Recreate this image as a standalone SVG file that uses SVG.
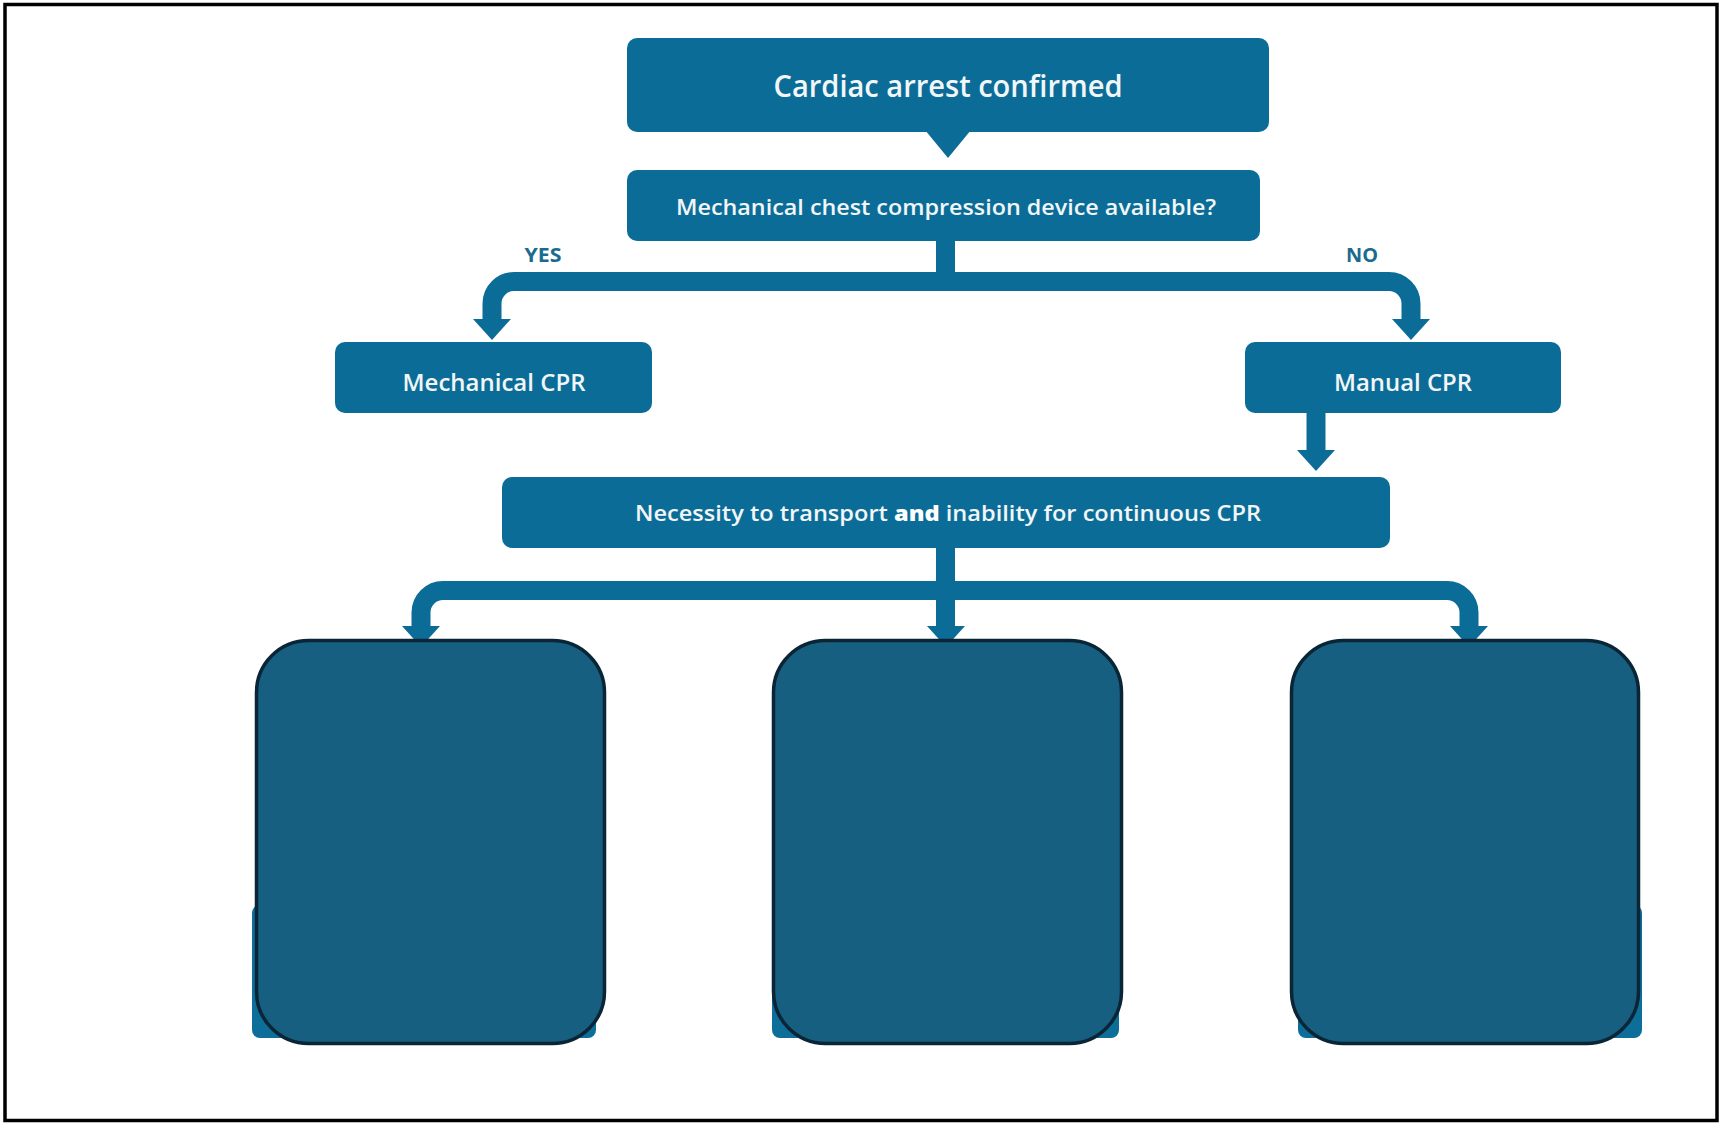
<svg xmlns="http://www.w3.org/2000/svg" width="1721" height="1124" viewBox="0 0 1721 1124">
  <style>
    .box { fill: #0b6d97; }
    .under { fill: #0d6f99; }
    .cover { fill: #175f80; stroke: #0a2536; stroke-width: 3.5; }
    .t { fill: #f2f6f8; font-family: "Open Sans", Lato, "Liberation Sans", sans-serif; font-weight: 600; text-anchor: middle; }
    .lab { fill: #1b6a90; font-family: "Open Sans", Lato, "Liberation Sans", sans-serif; font-weight: 700; text-anchor: middle; font-size: 20px; }
    .conn { fill: none; stroke: #0b6d97; stroke-width: 19; }
    .head { fill: #0b6d97; }
  </style>
  <rect x="0" y="0" width="1721" height="1124" fill="#ffffff"/>
  <rect id="frame" x="5" y="4.5" width="1712" height="1116" fill="none" stroke="#000000" stroke-width="3.5"/>

  <g id="connectors">
    <polygon class="head" points="925,130 971,130 948,158"/>
    <path class="conn" d="M945.5 241 V282"/>
    <path class="conn" d="M492 322 V303.5 A22 22 0 0 1 514 281.5 H1389 A22 22 0 0 1 1411 303.5 V322"/>
    <polygon class="head" points="473,319 511,319 492,340"/>
    <polygon class="head" points="1392,319 1430,319 1411,340"/>
    <path class="conn" d="M1316 413 V452"/>
    <polygon class="head" points="1297,450 1335,450 1316,471"/>
    <path class="conn" d="M945.5 548 V600"/>
    <path class="conn" d="M421 630 V612.5 A22 22 0 0 1 443 590.5 H1447 A22 22 0 0 1 1469 612.5 V630"/>
    <path class="conn" d="M945.5 590 V630"/>
    <polygon class="head" points="402,626 440,626 421,647"/>
    <polygon class="head" points="927,626 965,626 946,647"/>
    <polygon class="head" points="1450,626 1488,626 1469,647"/>
    <text class="lab" x="543" y="262" textLength="37" lengthAdjust="spacingAndGlyphs">YES</text>
    <text class="lab" x="1362" y="262" textLength="32" lengthAdjust="spacingAndGlyphs">NO</text>
  </g>

  <g id="n1">
    <rect class="box" x="627" y="38" width="642" height="94" rx="10"/>
    <text class="t" x="948" y="97" font-size="30" textLength="349" lengthAdjust="spacingAndGlyphs">Cardiac arrest confirmed</text>
  </g>
  <g id="n2">
    <rect class="box" x="627" y="170" width="633" height="71" rx="10"/>
    <text class="t" x="946" y="215" font-size="22" textLength="540" lengthAdjust="spacingAndGlyphs">Mechanical chest compression device available?</text>
  </g>
  <g id="n3">
    <rect class="box" x="335" y="342" width="317" height="71" rx="10"/>
    <text class="t" x="494" y="391" font-size="23" textLength="183" lengthAdjust="spacingAndGlyphs">Mechanical CPR</text>
  </g>
  <g id="n4">
    <rect class="box" x="1245" y="342" width="316" height="71" rx="10"/>
    <text class="t" x="1403" y="391" font-size="23" textLength="138" lengthAdjust="spacingAndGlyphs">Manual CPR</text>
  </g>
  <g id="n5">
    <rect class="box" x="502" y="477" width="888" height="71" rx="10"/>
    <text class="t" x="948" y="521" font-size="21" textLength="626" lengthAdjust="spacingAndGlyphs">Necessity to transport <tspan font-weight="800" fill="#ffffff">and</tspan> inability for continuous CPR</text>
  </g>

  <g id="n6">
    <rect class="under" x="252" y="905" width="344" height="133" rx="8"/>
    <rect class="cover" x="256.5" y="640.5" width="348" height="403" rx="52"/>
  </g>
  <g id="n7">
    <rect class="under" x="772" y="905" width="347" height="133" rx="8"/>
    <rect class="cover" x="773.5" y="640.5" width="348" height="403" rx="52"/>
  </g>
  <g id="n8">
    <rect class="under" x="1298" y="905" width="344" height="133" rx="8"/>
    <rect class="cover" x="1291.5" y="640.5" width="347" height="403" rx="52"/>
  </g>
</svg>
